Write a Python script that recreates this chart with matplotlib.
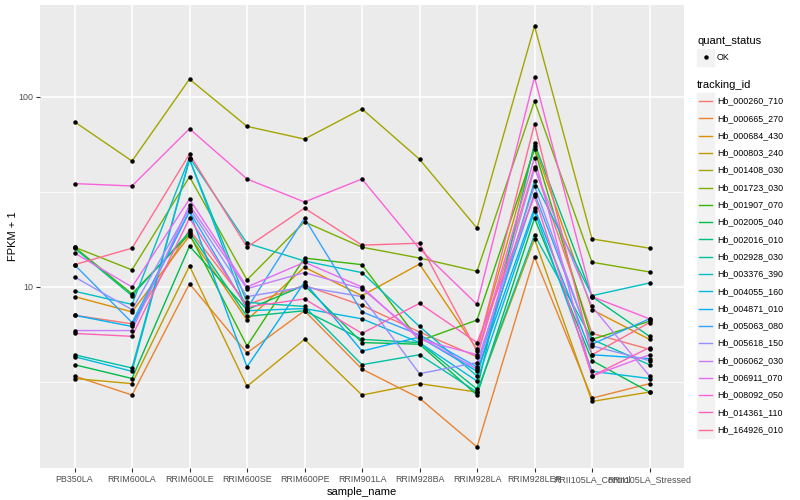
import numpy as np
import matplotlib
matplotlib.use('Agg')
import matplotlib.pyplot as plt
from matplotlib.patches import Rectangle
from matplotlib.lines import Line2D

plt.rcParams['font.family'] = ['Liberation Sans', 'DejaVu Sans']

samples = ["PB350LA", "RRIM600LA", "RRIM600LE", "RRIM600SE", "RRIM600PE",
           "RRIM901LA", "RRIM928BA", "RRIM928LA", "RRIM928LER",
           "RRII105LA_Control", "RRII105LA_Stressed"]

tracking_ids = ["Hb_000260_710", "Hb_000665_270", "Hb_000684_430", "Hb_000803_240",
                "Hb_001408_030", "Hb_001723_030", "Hb_001907_070", "Hb_002005_040",
                "Hb_002016_010", "Hb_002928_030", "Hb_003376_390", "Hb_004055_160",
                "Hb_004871_010", "Hb_005063_080", "Hb_005618_150", "Hb_006062_030",
                "Hb_006911_070", "Hb_008092_050", "Hb_014361_110", "Hb_164926_010"]

# ggplot hue palette, 20 levels
colors = ["#F8766D", "#EA8331", "#D89000", "#C09B00", "#A3A500", "#7CAE00", "#39B600",
          "#00BB4E", "#00BF7D", "#00C1A3", "#00BFC4", "#00BAE0", "#00B0F6", "#35A2FF",
          "#9590FF", "#C77CFF", "#E76BF3", "#FA62DB", "#FF62BC", "#FF6C91"]

# FPKM + 1 per gene, one value per sample
hb_000260_710 = [7.1, 6.4, 20, 8.1, 10.2, 8.0, 5.8, 4.3, 43, 5.7, 4.7]
hb_000665_270 = [3.4, 2.7, 10.4, 4.5, 7.5, 3.7, 2.6, 1.44, 14.4, 2.6, 3.1]
hb_000684_430 = [8.9, 7.4, 18.6, 6.7, 12.7, 9.0, 13.2, 4.7, 55, 7.6, 5.3]
hb_000803_240 = [3.3, 3.1, 12.9, 3.0, 5.3, 2.7, 3.1, 2.8, 17.9, 2.5, 2.8]
hb_001408_030 = [74, 46, 124, 70, 60, 86.5, 47, 20.4, 236, 17.9, 16.0]
hb_001723_030 = [16.2, 12.3, 38, 10.9, 22, 16.2, 14.2, 12.1, 95, 13.5, 12.0]
hb_001907_070 = [16.2, 9.2, 19, 4.9, 14.2, 13.1, 5.2, 6.7, 53, 5.3, 6.6]
hb_002005_040 = [3.9, 3.3, 16.4, 7.6, 10.2, 5.1, 5.0, 2.7, 23, 4.1, 2.8]
hb_002016_010 = [16.0, 9.0, 19.5, 7.0, 7.5, 5.3, 5.1, 2.9, 57, 8.9, 5.5]
hb_002928_030 = [4.4, 3.75, 47, 8.3, 7.9, 3.9, 4.4, 2.8, 18.8, 5.3, 3.9]
hb_003376_390 = [9.5, 8.1, 48, 17, 13.7, 11.9, 6.2, 3.4, 36, 9.0, 10.5]
hb_004055_160 = [4.3, 3.6, 47, 7.5, 7.7, 6.8, 5.1, 3.2, 25, 3.6, 3.3]
hb_004871_010 = [7.1, 6.2, 25, 3.8, 10.6, 4.6, 5.45, 3.6, 26, 4.4, 4.2]
hb_005063_080 = [13.1, 6.5, 25, 7.7, 23, 7.4, 5.6, 3.8, 31, 5.0, 6.8]
hb_005618_150 = [11.3, 7.6, 26, 8.9, 10, 8.9, 3.5, 4.0, 34, 4.9, 4.1]
hb_006062_030 = [5.9, 5.9, 27, 9.8, 11.9, 9.8, 5.45, 3.7, 42, 7.9, 3.4]
hb_006911_070 = [15.1, 10, 29, 10, 13.5, 10, 5.3, 4.4, 48, 3.4, 4.4]
hb_008092_050 = [35, 34, 68, 37, 28, 37, 15.9, 8.1, 127, 8.9, 6.8]
hb_014361_110 = [5.7, 5.5, 23, 7.85, 8.65, 5.7, 8.2, 5.1, 30, 3.4, 4.8]
hb_164926_010 = [13.1, 16, 50, 16.2, 26, 16.6, 17, 4.6, 72, 4.4, 6.5]

series = [hb_000260_710, hb_000665_270, hb_000684_430, hb_000803_240, hb_001408_030,
          hb_001723_030, hb_001907_070, hb_002005_040, hb_002016_010, hb_002928_030,
          hb_003376_390, hb_004055_160, hb_004871_010, hb_005063_080, hb_005618_150,
          hb_006062_030, hb_006911_070, hb_008092_050, hb_014361_110, hb_164926_010]

fig = plt.figure(figsize=(8, 5), dpi=100)
ax = fig.add_axes([0.05, 0.064, 0.805, 0.926])
ax.set_facecolor("#EBEBEB")

x = np.arange(len(samples))
for vals, col in zip(series, colors):
    ax.plot(x, vals, color=col, lw=1.0, zorder=3)
for vals in series:
    ax.plot(x, vals, 'o', color='black', ms=2.2, zorder=4)

ax.set_yscale('log')
lo, hi = np.log10(1.44), np.log10(236)
pad = (hi - lo) * 0.05
ax.set_ylim(10 ** (lo - pad), 10 ** (hi + pad))
ax.set_xlim(-0.6, len(samples) - 0.4)
ax.set_yticks([10, 100])
ax.set_yticklabels(["10", "100"])
ax.set_yticks([10 ** 0.5, 10 ** 1.5], minor=True)
ax.yaxis.set_minor_formatter(matplotlib.ticker.NullFormatter())
ax.set_xticks(x)
ax.set_xticklabels(samples)

ax.grid(True, which='major', color='white', lw=1.1, zorder=0)
ax.grid(True, which='minor', axis='y', color='white', lw=0.5, zorder=0)
ax.set_axisbelow(True)
ax.tick_params(which='major', length=3, color='#333333', labelsize=6.4,
               labelcolor='#4D4D4D', pad=2)
ax.tick_params(which='minor', length=0)
for s in ax.spines.values():
    s.set_visible(False)
ax.set_xlabel("sample_name", fontsize=8, labelpad=2)
ax.set_ylabel("FPKM + 1", fontsize=8, labelpad=0)

# legend drawn in pixel space on an overlay axes
leg = fig.add_axes([0, 0, 1, 1])
leg.set_xlim(0, 800)
leg.set_ylim(500, 0)
leg.axis('off')
leg.text(697, 41, "quant_status", fontsize=8, va='center', ha='left')
leg.add_patch(Rectangle((697, 48.5), 17, 17, color="#F2F2F2"))
leg.plot([705.5], [57], 'o', color='black', ms=2.2)
leg.text(717, 57, "OK", fontsize=6.4, va='center', ha='left')
leg.text(697, 85, "tracking_id", fontsize=8, va='center', ha='left')
y0, dy = 101, 17.3
for i, (tid, col) in enumerate(zip(tracking_ids, colors)):
    yy = y0 + i * dy
    leg.add_patch(Rectangle((697, yy - 8.5), 17, 17, color="#F2F2F2"))
    leg.add_line(Line2D([699, 712], [yy, yy], color=col, lw=1.0))
    leg.text(717, yy, tid, fontsize=6.4, va='center', ha='left')

plt.savefig("out.png", dpi=100)
plt.close()
